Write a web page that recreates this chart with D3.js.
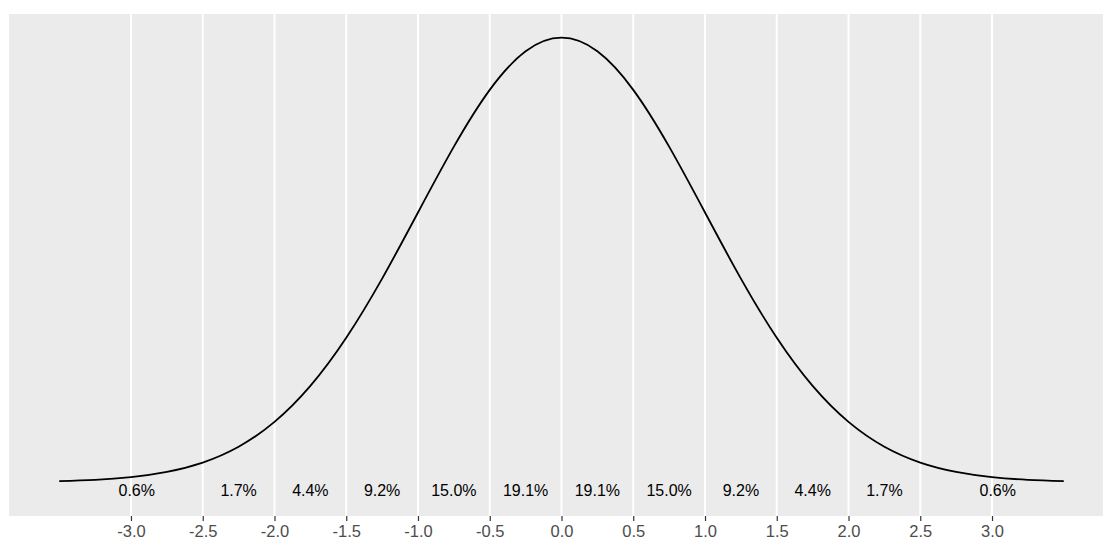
<!DOCTYPE html>
<html>
<head>
<meta charset="utf-8">
<script src="https://cdn.jsdelivr.net/npm/d3@7"></script>
<style>
  body { margin: 0; background: #fff; }
  svg { display: block; font-family: "Liberation Sans", Arial, sans-serif; }
</style>
</head>
<body>
<svg id="chart"></svg>
<script>
const curveX = [-3.5, -3.25, -3, -2.75, -2.5, -2.25, -2, -1.75, -1.5, -1.25, -1, -0.75, -0.5, -0.25,
    0, 0.25, 0.5, 0.75, 1, 1.25, 1.5, 1.75, 2, 2.25, 2.5, 2.75, 3, 3.25, 3.5];
const curveY = [0.0009, 0.0020, 0.0044, 0.0091, 0.0175, 0.0317, 0.0540, 0.0863, 0.1295, 0.1826, 0.2420, 0.3011, 0.3521, 0.3867,
    0.3989, 0.3867, 0.3521, 0.3011, 0.2420, 0.1826, 0.1295, 0.0863, 0.0540, 0.0317, 0.0175, 0.0091, 0.0044, 0.0020, 0.0009];

// area labels
const labelX = [-2.96, -2.25, -1.75, -1.25, -0.75, -0.25, 0.25, 0.75, 1.25, 1.75, 2.25, 3.04];
const labelText = ["0.6%", "1.7%", "4.4%", "9.2%", "15.0%", "19.1%", "19.1%", "15.0%", "9.2%", "4.4%", "1.7%", "0.6%"];
const labelY = -0.0072;

const tickValues = [-3, -2.5, -2, -1.5, -1, -0.5, 0, 0.5, 1, 1.5, 2, 2.5, 3];

const width = 1103, height = 543;

const svg = d3.select("#chart")
    .attr("width", width)
    .attr("height", height);

const x = d3.scaleLinear().domain([-3.85, 3.85]).range([9, 1114]);
const y = d3.scaleLinear().domain([-0.0305, 0.4202]).range([516, 14]);

// panel
svg.append("rect")
    .attr("x", x(-3.85))
    .attr("y", y(0.4202))
    .attr("width", x(3.85) - x(-3.85))
    .attr("height", y(-0.0305) - y(0.4202))
    .attr("fill", "#EBEBEB");

// vertical grid
svg.append("g")
    .selectAll("line")
    .data(tickValues)
    .enter().append("line")
    .attr("x1", d => x(d)).attr("x2", d => x(d))
    .attr("y1", y(0.4202)).attr("y2", y(-0.0305))
    .attr("stroke", "#fff")
    .attr("stroke-width", 2);

// density line
const pts = curveX.map((d, i) => [d, curveY[i]]);
svg.append("path")
    .datum(pts)
    .attr("fill", "none")
    .attr("stroke", "#000")
    .attr("stroke-width", 1.8)
    .attr("d", d3.line()
        .x(d => x(d[0]))
        .y(d => y(d[1]))
        .curve(d3.curveNatural));

// percent labels
svg.append("g")
    .selectAll("text")
    .data(labelText)
    .enter().append("text")
    .attr("x", (d, i) => x(labelX[i]))
    .attr("y", y(labelY))
    .attr("dy", "0.36em")
    .attr("text-anchor", "middle")
    .attr("font-size", 16)
    .attr("fill", "#000")
    .text(d => d);

// x axis (plain hyphen for negatives, like the original)
const xAxis = svg.append("g")
    .attr("transform", `translate(0,${y(-0.0305)})`)
    .call(d3.axisBottom(x).tickValues(tickValues).tickFormat(d => d.toFixed(1)).tickSize(5).tickPadding(4));
xAxis.select(".domain").remove();
xAxis.selectAll(".tick line").attr("stroke", "#333333").attr("stroke-width", 1.2);
xAxis.selectAll(".tick text")
    .attr("fill", "#4D4D4D")
    .attr("font-size", 16.5)
    .attr("font-family", "Liberation Sans, Arial, sans-serif");
</script>
</body>
</html>
